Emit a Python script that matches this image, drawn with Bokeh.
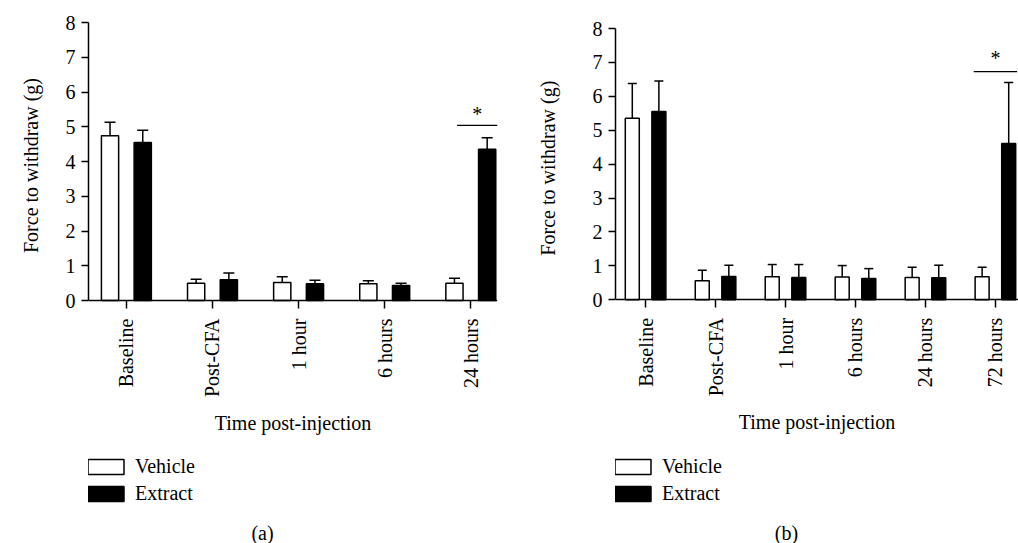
import math
import numpy as np
from bokeh.plotting import figure
from bokeh.models import (Range1d, FixedTicker, Whisker, TeeHead, ColumnDataSource,
                          Legend, LegendItem, Label, Title)
from bokeh.layouts import row
from bokeh.embed import file_html
from bokeh.resources import INLINE
from bokeh.core.properties import value

FONT = "Liberation Serif"

# ---------------- data: panel (a) ----------------
cats_a = ["Baseline", "Post-CFA", "1 hour", "6 hours", "24 hours"]
vehicle_a = [4.74, 0.50, 0.52, 0.48, 0.50]
vehicle_err_a = [0.39, 0.11, 0.16, 0.09, 0.14]
extract_a = [4.55, 0.60, 0.48, 0.43, 4.35]
extract_err_a = [0.35, 0.19, 0.10, 0.07, 0.33]
sig_cat_a = "24 hours"
sig_line_a = 5.04
sig_star_a = 5.40

# ---------------- data: panel (b) ----------------
cats_b = ["Baseline", "Post-CFA", "1 hour", "6 hours", "24 hours", "72 hours"]
vehicle_b = [5.35, 0.56, 0.68, 0.67, 0.66, 0.68]
vehicle_err_b = [1.03, 0.31, 0.36, 0.34, 0.30, 0.28]
extract_b = [5.55, 0.69, 0.66, 0.63, 0.65, 4.61]
extract_err_b = [0.90, 0.33, 0.38, 0.29, 0.37, 1.80]
sig_cat_b = "72 hours"
sig_line_b = 6.73
sig_star_b = 7.15

y_ticks = [0, 1, 2, 3, 4, 5, 6, 7, 8]
x_label = "Time post-injection"
y_label = "Force to withdraw (g)"
series_names = ["Vehicle", "Extract"]

H = 543          # figure height
FRAME_TOP = 22   # common frame top (rows align frames)
YLABEL_LEN = 183 # approximate pixel length of the y-axis title


def panel(cats, veh, veh_err, ext, ext_err, sig_cat, sig_y, star_y, tag,
          width, x_lo, x_hi, mb_left, mb_right, top_px, zero_px,
          sig_x0, cap, tag_x, ylab_standoff):
    n = len(cats)
    idx = np.arange(n)
    ymax = y_ticks[-1]
    ppu = (zero_px - top_px) / ymax              # pixels per data unit
    y_lo = -(H - zero_px) / ppu                  # frame extends to the bottom
    y_hi = ymax + (top_px - FRAME_TOP) / ppu
    p = figure(width=width, height=H, x_range=Range1d(x_lo, x_hi),
               y_range=Range1d(y_lo, y_hi),
               output_backend="svg", toolbar_location=None,
               min_border_left=mb_left, min_border_right=mb_right,
               min_border_top=FRAME_TOP, min_border_bottom=0,
               x_axis_label=x_label)
    p.background_fill_color = "white"
    p.border_fill_color = "white"
    p.outline_line_color = None
    p.xgrid.visible = False
    p.ygrid.visible = False

    src_v = ColumnDataSource(dict(x=idx - 0.19, top=veh, upper=np.add(veh, veh_err)))
    src_e = ColumnDataSource(dict(x=idx + 0.19, top=ext, upper=np.add(ext, ext_err)))
    for src in (src_v, src_e):
        p.add_layout(Whisker(source=src, base="x", lower="top", upper="upper",
                             dimension="height", line_color="black", line_width=1.5,
                             upper_head=TeeHead(size=cap, line_color="black", line_width=1.5),
                             lower_head=None))
    rv = p.vbar(x="x", top="top", bottom=0, width=0.2, source=src_v,
                fill_color="white", line_color="black", line_width=1.5)
    re = p.vbar(x="x", top="top", bottom=0, width=0.2, source=src_e,
                fill_color="black", line_color="black", line_width=1.5)

    s = cats.index(sig_cat)
    p.segment(x0=[s + sig_x0], y0=[sig_y], x1=[s + 0.31], y1=[sig_y],
              line_color="black", line_width=1.3)
    p.text(x=[s + (sig_x0 + 0.31) / 2], y=[star_y], text=["*"],
           text_align="center", text_baseline="middle", y_offset=1,
           text_font=value(FONT), text_font_size="20px", text_color="black")

    for ax in (p.xaxis[0], p.yaxis[0]):
        ax.axis_line_color = "black"
        ax.axis_line_width = 1.5
        ax.major_tick_line_color = "black"
        ax.major_tick_line_width = 1.5
        ax.minor_tick_line_color = None
        ax.major_tick_in = 0
        ax.major_label_text_font = FONT
        ax.major_label_text_font_size = "20px"
        ax.major_label_text_color = "black"
        ax.axis_label_text_font = FONT
        ax.axis_label_text_font_size = "20px"
        ax.axis_label_text_font_style = "normal"
        ax.axis_label_text_color = "black"

    p.xaxis.fixed_location = 0
    p.xaxis.ticker = FixedTicker(ticks=list(range(n)))
    p.xaxis.major_label_overrides = {i: c for i, c in enumerate(cats)}
    p.xaxis.major_label_orientation = math.pi / 2
    p.xaxis.major_tick_out = 8
    p.xaxis.major_label_standoff = 10
    p.xaxis.axis_label_standoff = 12

    p.yaxis.bounds = (0, ymax)
    p.yaxis.ticker = FixedTicker(ticks=y_ticks)
    p.yaxis.major_tick_out = 7
    p.yaxis.major_label_standoff = 6

    # y-axis title centred on the 0..8 span of the axis
    axis_mid = (top_px + zero_px) / 2
    p.add_layout(Title(text=y_label, align="left", vertical_align="top",
                       offset=H - (axis_mid + YLABEL_LEN / 2),
                       standoff=ylab_standoff, text_font=FONT, text_font_size="20px",
                       text_font_style="normal", text_color="black"), "left")

    legend = Legend(items=[LegendItem(label=series_names[0], renderers=[rv]),
                           LegendItem(label=series_names[1], renderers=[re])],
                    location=(-5, 38), orientation="vertical",
                    glyph_width=45, glyph_height=19, label_height=20,
                    label_standoff=7, spacing=4, padding=0, margin=0,
                    border_line_color=None, background_fill_alpha=0,
                    label_text_font=FONT, label_text_font_size="20px",
                    label_text_color="black")
    p.add_layout(legend)

    p.add_layout(Label(x=tag_x, y=11, x_units="screen", y_units="screen",
                       text=tag, text_align="center", text_baseline="middle",
                       text_font=FONT, text_font_size="20px", text_color="black"))
    return p


pa = panel(cats_a, vehicle_a, vehicle_err_a, extract_a, extract_err_a,
           sig_cat_a, sig_line_a, sig_star_a, "(a)",
           width=508, x_lo=-0.44, x_hi=4.31, mb_left=87, mb_right=11,
           top_px=22, zero_px=300, sig_x0=-0.16, cap=11, tag_x=174,
           ylab_standoff=38)
pb = panel(cats_b, vehicle_b, vehicle_err_b, extract_b, extract_err_b,
           sig_cat_b, sig_line_b, sig_star_b, "(b)",
           width=510, x_lo=-0.43, x_hi=5.33, mb_left=107, mb_right=0,
           top_px=28, zero_px=299.3, sig_x0=-0.31, cap=9, tag_x=171,
           ylab_standoff=57)

layout = row(pa, pb)
open("out.html", "w").write(file_html(layout, INLINE))
